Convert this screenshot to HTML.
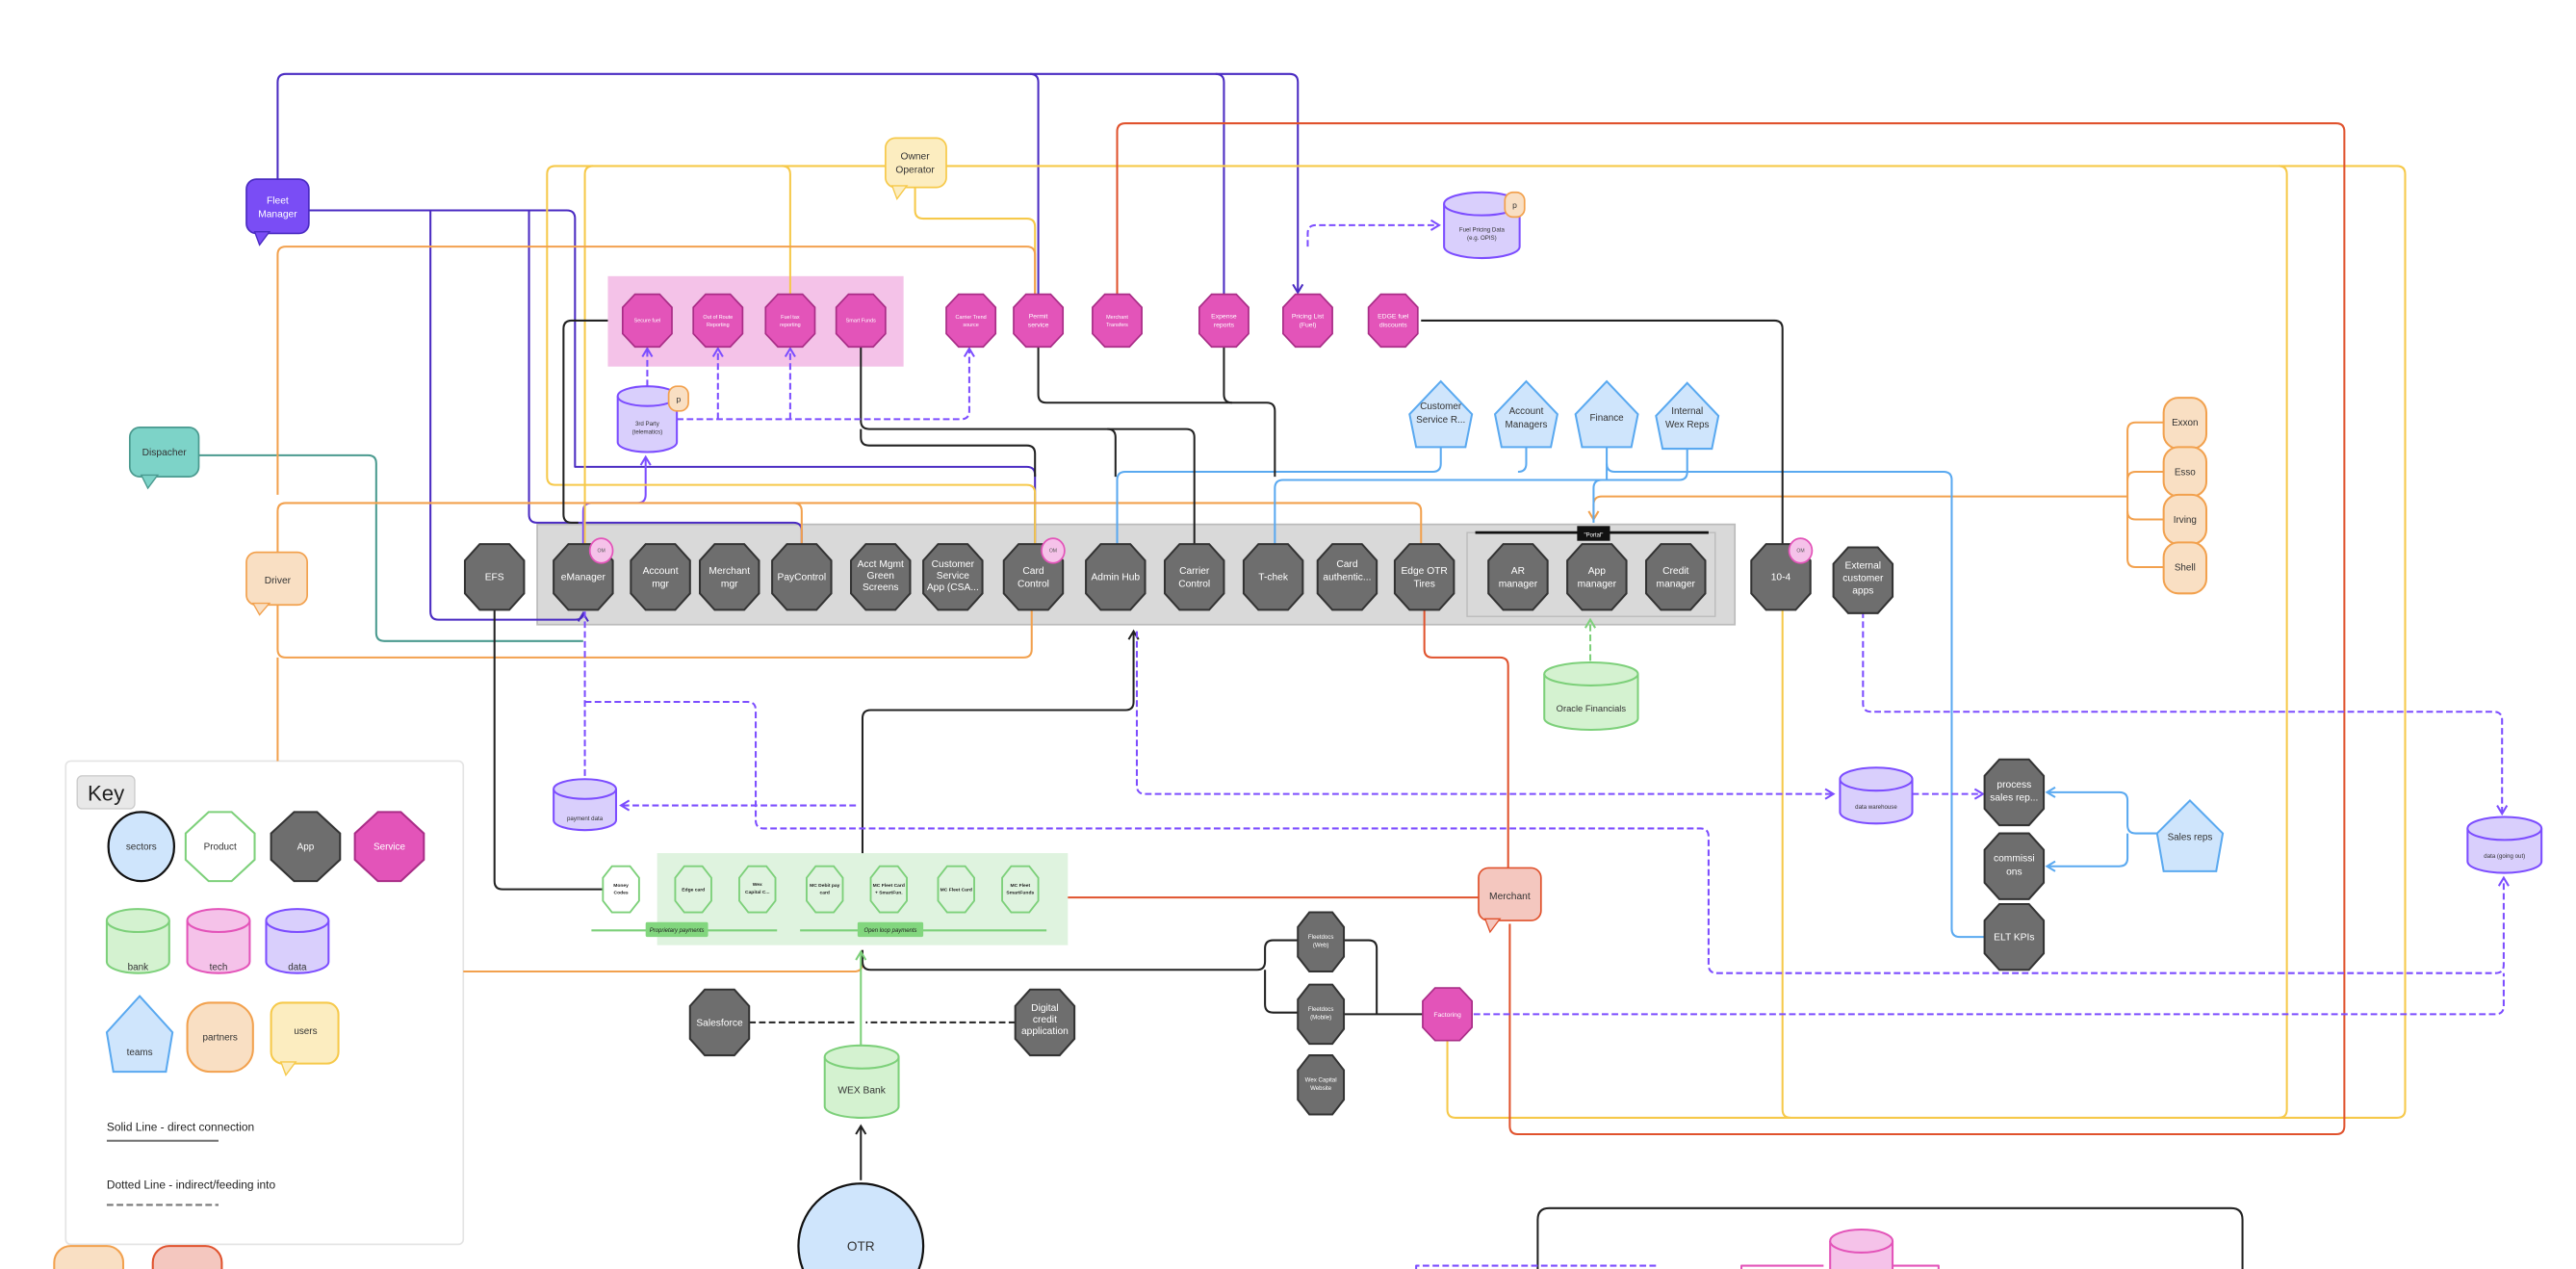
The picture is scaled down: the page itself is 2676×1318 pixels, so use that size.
<!DOCTYPE html>
<html><head><meta charset="utf-8"><style>
html,body{margin:0;padding:0;background:#fff;}
svg{display:block;}
text{font-family:"Liberation Sans",sans-serif;}
</style></head><body>
<svg width="2676" height="1318" viewBox="0 0 1568 772" preserveAspectRatio="none" xmlns="http://www.w3.org/2000/svg">
<defs>
<polygon id="app" points="-9,-20 9,-20 18,-10 18,10 9,20 -9,20 -18,10 -18,-10"/>
<polygon id="svc" points="-7.5,-16 7.5,-16 15,-8 15,8 7.5,16 -7.5,16 -15,8 -15,-8"/>
<polygon id="prd" points="-5.5,-14 5.5,-14 11,-7 11,7 5.5,14 -5.5,14 -11,7 -11,-7"/>
<polygon id="sml" points="-7,-18 7,-18 14,-9 14,9 7,18 -7,18 -14,9 -14,-9"/>
<marker id="mP" markerWidth="8" markerHeight="8" refX="6" refY="4" orient="auto" markerUnits="userSpaceOnUse"><path d="M1,1 L6,4 L1,7" fill="none" stroke="#7c4dff" stroke-width="1.2"/></marker>
<marker id="mD" markerWidth="8" markerHeight="8" refX="6" refY="4" orient="auto" markerUnits="userSpaceOnUse"><path d="M1,1 L6,4 L1,7" fill="none" stroke="#4a2bc2" stroke-width="1.2"/></marker>
<marker id="mK" markerWidth="8" markerHeight="8" refX="6" refY="4" orient="auto" markerUnits="userSpaceOnUse"><path d="M1,1 L6,4 L1,7" fill="none" stroke="#222" stroke-width="1.2"/></marker>
<marker id="mG" markerWidth="8" markerHeight="8" refX="6" refY="4" orient="auto" markerUnits="userSpaceOnUse"><path d="M1,1 L6,4 L1,7" fill="none" stroke="#7dd07a" stroke-width="1.2"/></marker>
<marker id="mO" markerWidth="8" markerHeight="8" refX="6" refY="4" orient="auto" markerUnits="userSpaceOnUse"><path d="M1,1 L6,4 L1,7" fill="none" stroke="#f2a14e" stroke-width="1.2"/></marker>
<marker id="mB" markerWidth="8" markerHeight="8" refX="6" refY="4" orient="auto" markerUnits="userSpaceOnUse"><path d="M1,1 L6,4 L1,7" fill="none" stroke="#5aa9f0" stroke-width="1.2"/></marker>
</defs>

<!-- regions -->
<rect x="370" y="168" width="180" height="55" fill="#f4c2e8"/>
<rect x="327" y="319" width="729" height="61" fill="#d9d9d9" stroke="#bbb" stroke-width="1"/>
<rect x="893" y="324" width="151" height="51" fill="#d9d9d9" stroke="#bbb" stroke-width="0.8"/>
<rect x="400" y="519" width="250" height="56" fill="#dff3df"/>
<!-- Key box background -->
<rect x="40" y="463" width="242" height="294" rx="3" fill="#fff" stroke="#e4e4e4" stroke-width="1"/>

<g fill="none" stroke-width="1.2" stroke-linejoin="round">
<!-- teal -->
<path stroke="#4a9a8f" d="M121,277 H224 Q229,277 229,282 V385 Q229,390 234,390 H355"/>
<!-- dark purple -->
<g stroke="#4a2bc2">
<path d="M169,109 V50 Q169,45 174,45 H785 Q790,45 790,50 V178" marker-end="url(#mD)"/>
<path d="M627,45 Q632,45 632,50 V180"/>
<path d="M740,45 Q745,45 745,50 V180"/>
<path d="M188,128 H345 Q350,128 350,133 V284 H625 Q630,284 630,289 V332"/>
<path d="M262,128 V372 Q262,377 267,377 H350 Q355,377 355,373" marker-end="url(#mD)"/>
<path d="M322,128 V313 Q322,318 327,318 H483 Q488,318 488,323 V332"/>
</g>
<path stroke="#7c4dff" d="M355,332 V311 Q355,306 360,306 H388 Q393,306 393,301 V278" marker-end="url(#mP)"/>
<!-- yellow -->
<g stroke="#f6c94a">
<path d="M539,101 H338 Q333,101 333,106 V290 Q333,295 338,295 H625 Q630,295 630,300 V332"/>
<path d="M361,101 Q356,101 356,106 V332"/>
<path d="M476,101 Q481,101 481,106 V180"/>
<path d="M576,101 H1459 Q1464,101 1464,106 V675 Q1464,680 1459,680 H886 Q881,680 881,675 V633"/>
<path d="M1387,101 Q1392,101 1392,106 V675 Q1392,680 1387,680"/>
<path d="M1085,370 V675 Q1085,680 1090,680"/>
<path d="M557,114 V128 Q557,133 562,133 H625 Q630,133 630,138 V180"/>
</g>
<!-- orange -->
<g stroke="#f2a14e">
<path d="M169,301 V155 Q169,150 174,150 H625 Q630,150 630,155 V180"/>
<path d="M169,336 V311 Q169,306 174,306 H860 Q865,306 865,311 V332"/>
<path d="M483,306 Q488,306 488,311 V332"/>
<path d="M169,368 V395 Q169,400 174,400 H623 Q628,400 628,395 V370"/>
<path d="M169,400 V463"/>
<path d="M282,591 H520 Q525,591 525,586 V578"/>
<path d="M1317,257 H1300 Q1295,257 1295,262 V340 Q1295,345 1300,345 H1317"/>
<path d="M1317,287 H1300 Q1295,287 1295,292"/>
<path d="M1317,316 H1300 Q1295,316 1295,311"/>
<path d="M1295,302 H975 Q970,302 970,307 V316" marker-end="url(#mO)"/>
</g>
<!-- blue -->
<g stroke="#5aa9f0">
<path d="M877,272 V282 Q877,287 872,287 H685 Q680,287 680,292 V332"/>
<path d="M929,272 V282 Q929,287 924,287"/>
<path d="M978,272 V292"/>
<path d="M978,282 Q978,287 983,287 H1183 Q1188,287 1188,292 V565 Q1188,570 1193,570 H1208"/>
<path d="M1027,272 V287 Q1027,292 1022,292 H781 Q776,292 776,297 V332"/>
<path d="M975,292 Q970,292 970,297 V318"/>
<path d="M1313,507 H1300 Q1295,507 1295,502 V487 Q1295,482 1290,482 H1246" marker-end="url(#mB)"/>
<path d="M1295,507 V522 Q1295,527 1290,527 H1246" marker-end="url(#mB)"/>
</g>
<!-- black -->
<g stroke="#222">
<path d="M370,195 H348 Q343,195 343,200 V313 Q343,318 348,318 H352"/>
<path d="M524,211 V256 Q524,261 529,261 H722 Q727,261 727,266 V332"/>
<path d="M674,261 Q679,261 679,266 V290"/>
<path d="M524,261 V266 Q524,271 529,271 H625 Q630,271 630,276 V290"/>
<path d="M632,211 V240 Q632,245 637,245 H771 Q776,245 776,250 V290"/>
<path d="M745,211 V240 Q745,245 750,245"/>
<path d="M865,195 H1080 Q1085,195 1085,200 V332"/>
<path d="M301,370 V536 Q301,541 306,541 H367"/>
<path d="M525,519 V437 Q525,432 530,432 H685 Q690,432 690,427 V384" marker-end="url(#mK)"/>
<path d="M525,578 V585 Q525,590 530,590 H765 Q770,590 770,585 V577 Q770,572 775,572 H790"/>
<path d="M770,590 V611 Q770,616 775,616 H790"/>
<path d="M818,572 H833 Q838,572 838,577 V617"/>
<path d="M818,617 H866"/>
<path d="M456,622 H522" stroke-dasharray="4,2"/>
<path d="M618,622 H527" stroke-dasharray="4,2"/>
<path d="M524,718 V685" marker-end="url(#mK)"/>
<path d="M936,772 V742 Q936,735 943,735 H1358 Q1365,735 1365,742 V772"/>
<path d="M65,694 H133" stroke="#777"/>
<path d="M65,733 H133" stroke="#777" stroke-dasharray="4,2"/>
</g>
<!-- green -->
<g stroke="#7dd07a">
<path d="M524,636 V579" marker-end="url(#mG)"/>
<path d="M968,402 V377" stroke-dasharray="4,2" marker-end="url(#mG)"/>
<path d="M360,566 H473 M487,566 H637"/>
</g>
<!-- red -->
<g stroke="#e0522d">
<path d="M680,180 V80 Q680,75 685,75 H1422 Q1427,75 1427,80 V685 Q1427,690 1422,690 H924 Q919,690 919,685 V562"/>
<path d="M900,546 H650"/>
<path d="M867,370 V395 Q867,400 872,400 H913 Q918,400 918,405 V528"/>
</g>
<!-- purple dashed -->
<g stroke="#7c4dff" stroke-dasharray="4,2">
<path d="M412,255 H585 Q590,255 590,250 V212" marker-end="url(#mP)"/>
<path d="M437,255 V212" marker-end="url(#mP)"/>
<path d="M481,255 V212" marker-end="url(#mP)"/>
<path d="M394,235 V212" marker-end="url(#mP)"/>
<path d="M796,150 V142 Q796,137 801,137 H876" marker-end="url(#mP)"/>
<path d="M356,372 V473"/>
<path d="M356,427 H455 Q460,427 460,432 V499 Q460,504 465,504 H1035 Q1040,504 1040,509 V587 Q1040,592 1045,592 H1519 Q1524,592 1524,587 V534" marker-end="url(#mP)"/>
<path d="M897,617 H1519 Q1524,617 1524,612 V592"/>
<path d="M521,490 H378" marker-end="url(#mP)"/>
<path d="M692,384 V478 Q692,483 697,483 H1116" marker-end="url(#mP)"/>
<path d="M1164,483 H1207" marker-end="url(#mP)"/>
<path d="M1134,372 V428 Q1134,433 1139,433 H1518 Q1523,433 1523,438 V495" marker-end="url(#mP)"/>
<path d="M862,772 V770 H1008 V772"/>
</g>
<path d="M1060,772 V770 H1110 M1152,770 H1180 V772" stroke="#e354b9"/>
</g>

<!-- portal line -->
<line x1="898" y1="324" x2="1040" y2="324" stroke="#111" stroke-width="1.6"/>
<rect x="960" y="320" width="20" height="9" fill="#111"/>
<text x="970" y="326.5" font-size="3.5" fill="#fff" text-anchor="middle">"Portal"</text>

<!-- speech bubbles -->
<g font-size="6" text-anchor="middle">
<rect x="150" y="109" width="38" height="33" rx="6" fill="#7a4df5" stroke="#4a2bc2"/>
<path d="M155,141 L158,149 L164,141 Z" fill="#7a4df5" stroke="#4a2bc2" stroke-width="0.8"/>
<text x="169" y="124" fill="#fff">Fleet</text><text x="169" y="132" fill="#fff">Manager</text>

<rect x="539" y="84" width="37" height="30" rx="6" fill="#fcedc0" stroke="#f6c94a"/>
<path d="M543,113 L546,121 L552,113 Z" fill="#fcedc0" stroke="#f6c94a" stroke-width="0.8"/>
<text x="557" y="97" fill="#333">Owner</text><text x="557" y="105" fill="#333">Operator</text>

<rect x="79" y="260" width="42" height="30" rx="6" fill="#7dd3c8" stroke="#4a9a8f"/>
<path d="M86,289 L90,297 L96,289 Z" fill="#7dd3c8" stroke="#4a9a8f" stroke-width="0.8"/>
<text x="100" y="277" fill="#333">Dispacher</text>

<rect x="150" y="336" width="37" height="32" rx="6" fill="#f9dfc3" stroke="#f2a14e"/>
<path d="M154,367 L158,374 L164,367 Z" fill="#f9dfc3" stroke="#f2a14e" stroke-width="0.8"/>
<text x="169" y="355" fill="#333">Driver</text>

<rect x="900" y="528" width="38" height="32" rx="6" fill="#f4c7bf" stroke="#e0522d"/>
<path d="M904,559 L907,567 L913,559 Z" fill="#f4c7bf" stroke="#e0522d" stroke-width="0.8"/>
<text x="919" y="547" fill="#333">Merchant</text>
</g>

<!-- service octagons -->
<g fill="#e354b9" stroke="#a92d87" stroke-width="1" font-size="3.2" text-anchor="middle">
<use href="#svc" x="394" y="195"/><use href="#svc" x="437" y="195"/><use href="#svc" x="481" y="195"/><use href="#svc" x="524" y="195"/>
<use href="#svc" x="591" y="195"/><use href="#svc" x="632" y="195"/><use href="#svc" x="680" y="195"/><use href="#svc" x="745" y="195"/>
<use href="#svc" x="796" y="195"/><use href="#svc" x="848" y="195"/><use href="#svc" x="881" y="617"/>
<g fill="#fff" stroke="none">
<text x="394" y="196">Secure fuel</text>
<text x="437" y="194">Out of Route</text><text x="437" y="198.5">Reporting</text>
<text x="481" y="194">Fuel tax</text><text x="481" y="198.5">reporting</text>
<text x="524" y="196">Smart Funds</text>
<text x="591" y="194">Carrier Trend</text><text x="591" y="198.5">source</text>
<text x="632" y="193.5" font-size="4">Permit</text><text x="632" y="199" font-size="4">service</text>
<text x="680" y="194">Merchant</text><text x="680" y="198.5">Transfers</text>
<text x="745" y="193.5" font-size="4">Expense</text><text x="745" y="199" font-size="4">reports</text>
<text x="796" y="193.5" font-size="4">Pricing List</text><text x="796" y="199" font-size="4">(Fuel)</text>
<text x="848" y="193.5" font-size="4">EDGE fuel</text><text x="848" y="199" font-size="4">discounts</text>
<text x="881" y="618.5" font-size="4">Factoring</text>
</g></g>

<!-- app octagons -->
<g fill="#6e6e6e" stroke="#333" stroke-width="1.2">
<use href="#app" x="301" y="351"/><use href="#app" x="355" y="351"/><use href="#app" x="402" y="351"/><use href="#app" x="444" y="351"/>
<use href="#app" x="488" y="351"/><use href="#app" x="536" y="351"/><use href="#app" x="580" y="351"/><use href="#app" x="629" y="351"/>
<use href="#app" x="679" y="351"/><use href="#app" x="727" y="351"/><use href="#app" x="775" y="351"/><use href="#app" x="820" y="351"/>
<use href="#app" x="867" y="351"/><use href="#app" x="924" y="351"/><use href="#app" x="972" y="351"/><use href="#app" x="1020" y="351"/>
<use href="#app" x="1084" y="351"/><use href="#app" x="1134" y="353"/>
<use href="#app" x="438" y="622"/><use href="#app" x="636" y="622"/>
<use href="#app" x="1226" y="482"/><use href="#app" x="1226" y="527"/><use href="#app" x="1226" y="570"/>
<use href="#sml" x="804" y="573"/><use href="#sml" x="804" y="617"/><use href="#sml" x="804" y="660"/>
</g>
<g fill="#fff" font-size="6" text-anchor="middle">
<text x="301" y="353">EFS</text>
<text x="355" y="353">eManager</text>
<text x="402" y="349">Account</text><text x="402" y="357">mgr</text>
<text x="444" y="349">Merchant</text><text x="444" y="357">mgr</text>
<text x="488" y="353">PayControl</text>
<text x="536" y="345">Acct Mgmt</text><text x="536" y="352">Green</text><text x="536" y="359">Screens</text>
<text x="580" y="345">Customer</text><text x="580" y="352">Service</text><text x="580" y="359">App (CSA...</text>
<text x="629" y="349">Card</text><text x="629" y="357">Control</text>
<text x="679" y="353">Admin Hub</text>
<text x="727" y="349">Carrier</text><text x="727" y="357">Control</text>
<text x="775" y="353">T-chek</text>
<text x="820" y="345">Card</text><text x="820" y="353">authentic...</text>
<text x="867" y="349">Edge OTR</text><text x="867" y="357">Tires</text>
<text x="924" y="349">AR</text><text x="924" y="357">manager</text>
<text x="972" y="349">App</text><text x="972" y="357">manager</text>
<text x="1020" y="349">Credit</text><text x="1020" y="357">manager</text>
<text x="1084" y="353">10-4</text>
<text x="1134" y="346">External</text><text x="1134" y="353.5">customer</text><text x="1134" y="361">apps</text>
<text x="438" y="624">Salesforce</text>
<text x="636" y="615">Digital</text><text x="636" y="622">credit</text><text x="636" y="629">application</text>
<text x="1226" y="479">process</text><text x="1226" y="487">sales rep...</text>
<text x="1226" y="524">commissi</text><text x="1226" y="532">ons</text>
<text x="1226" y="572">ELT KPIs</text>
<g font-size="3.6"><text x="804" y="571">Fleetdocs</text><text x="804" y="576">(Web)</text>
<text x="804" y="615">Fleetdocs</text><text x="804" y="620">(Mobile)</text>
<text x="804" y="658">Wex Capital</text><text x="804" y="663">Website</text></g>
</g>

<!-- OM badges -->
<g fill="#f5c2e9" stroke="#e354b9" stroke-width="1">
<ellipse cx="366" cy="335" rx="7" ry="7.5"/><ellipse cx="641" cy="335" rx="7" ry="7.5"/><ellipse cx="1096" cy="335" rx="7" ry="7.5"/>
</g>
<g font-size="3" fill="#555" text-anchor="middle"><text x="366" y="336">OM</text><text x="641" y="336">OM</text><text x="1096" y="336">OM</text></g>

<!-- products -->
<g fill="#fff" stroke="#7dd07a" stroke-width="1.1">
<use href="#prd" x="378" y="541"/>
<use href="#prd" x="422" y="541" fill="#dff3df"/><use href="#prd" x="461" y="541" fill="#dff3df"/><use href="#prd" x="502" y="541" fill="#dff3df"/>
<use href="#prd" x="541" y="541" fill="#dff3df"/><use href="#prd" x="582" y="541" fill="#dff3df"/><use href="#prd" x="621" y="541" fill="#dff3df"/>
</g>
<g font-size="2.9" fill="#222" text-anchor="middle" font-weight="bold">
<text x="378" y="539.5">Money</text><text x="378" y="544">Codes</text>
<text x="422" y="542">Edge card</text>
<text x="461" y="539">Wex</text><text x="461" y="543.5">Capital C...</text>
<text x="502" y="539.5">MC Debit pay</text><text x="502" y="544">card</text>
<text x="541" y="539.5">MC Fleet Card</text><text x="541" y="544">+ SmartFun.</text>
<text x="582" y="542">MC Fleet Card</text>
<text x="621" y="539.5">MC Fleet</text><text x="621" y="544">SmartFunds</text>
</g>
<rect x="393" y="561" width="38" height="9" fill="#82d67e" rx="1"/>
<rect x="522" y="561" width="40" height="9" fill="#82d67e" rx="1"/>
<g font-size="3.5" font-style="italic" fill="#222" text-anchor="middle"><text x="412" y="567">Proprietary payments</text><text x="542" y="567">Open loop payments</text></g>

<!-- Key items (non-cylinder) -->
<rect x="47" y="472" width="35" height="20" rx="3" fill="#e8e8e8" stroke="#ccc" stroke-width="0.8"/>
<text x="64.5" y="487" font-size="13" text-anchor="middle" fill="#222">Key</text>
<ellipse cx="86" cy="515" rx="20" ry="21" fill="#cfe5fc" stroke="#111" stroke-width="1.3"/>
<polygon points="127,494 141,494 155,507 155,523 141,536 127,536 113,523 113,507" fill="#fff" stroke="#7dd07a" stroke-width="1.2"/>
<polygon points="179,494 193,494 207,507 207,523 193,536 179,536 165,523 165,507" fill="#6e6e6e" stroke="#333" stroke-width="1.2"/>
<polygon points="230,494 244,494 258,507 258,523 244,536 230,536 216,523 216,507" fill="#e354b9" stroke="#a92d87" stroke-width="1.2"/>
<rect x="114" y="610" width="40" height="42" rx="14" fill="#f9dfc3" stroke="#f2a14e" stroke-width="1.2"/>
<rect x="165" y="610" width="41" height="37" rx="7" fill="#fcedc0" stroke="#f6c94a" stroke-width="1.2"/>
<path d="M171,646 L174,654 L180,646 Z" fill="#fcedc0" stroke="#f6c94a" stroke-width="0.8"/>

<!-- cylinders -->
<g stroke-width="1.2">
<g fill="#d9cffc" stroke="#7c4dff">
<path d="M376,241 V269 A18,6 0 0 0 412,269 V241"/><ellipse cx="394" cy="241" rx="18" ry="6"/>
<path d="M879,124 V150 A23,7 0 0 0 925,150 V124"/><ellipse cx="902" cy="124" rx="23" ry="7"/>
<path d="M337,480 V499 A19,6 0 0 0 375,499 V480"/><ellipse cx="356" cy="480" rx="19" ry="6"/>
<path d="M1120,474 V494 A22,7 0 0 0 1164,494 V474"/><ellipse cx="1142" cy="474" rx="22" ry="7"/>
<path d="M1502,504 V524 A22.5,7 0 0 0 1547,524 V504"/><ellipse cx="1524.5" cy="504" rx="22.5" ry="7"/>
<path d="M162,560 V585 A19,7 0 0 0 200,585 V560"/><ellipse cx="181" cy="560" rx="19" ry="7"/>
</g>
<g fill="#d4f2d0" stroke="#7dd07a">
<path d="M940,410 V437 A28.5,7 0 0 0 997,437 V410"/><ellipse cx="968.5" cy="410" rx="28.5" ry="7"/>
<path d="M502,643 V673 A22.5,7 0 0 0 547,673 V643"/><ellipse cx="524.5" cy="643" rx="22.5" ry="7"/>
<path d="M65,560 V585 A19,7 0 0 0 103,585 V560"/><ellipse cx="84" cy="560" rx="19" ry="7"/>
</g>
<g fill="#f5c2e9" stroke="#e354b9">
<path d="M114,560 V585 A19,7 0 0 0 152,585 V560"/><ellipse cx="133" cy="560" rx="19" ry="7"/>
<path d="M1114,755 V800 A19,7 0 0 0 1152,800 V755"/><ellipse cx="1133" cy="755" rx="19" ry="7"/>
</g>
</g>
<g fill="#f9dfc3" stroke="#f2a14e" stroke-width="1">
<rect x="407" y="235" width="12" height="15" rx="5"/><rect x="916" y="117" width="12" height="15" rx="5"/>
</g>
<g font-size="5" fill="#333" text-anchor="middle"><text x="413" y="244.5">p</text><text x="922" y="126.5">p</text></g>
<g fill="#333" text-anchor="middle" font-size="3.6">
<text x="394" y="259">3rd Party</text><text x="394" y="264">(telematics)</text>
<text x="902" y="141">Fuel Pricing Data</text><text x="902" y="146">(e.g. OPIS)</text>
<text x="356" y="499">payment data</text>
<text x="1142" y="492">data warehouse</text>
<text x="1524.5" y="522">data (going out)</text>
<text x="968.5" y="433" font-size="5.5">Oracle Financials</text>
<text x="524.5" y="665" font-size="6">WEX Bank</text>
</g>

<!-- teams pentagons -->
<g fill="#cfe5fc" stroke="#5aa9f0" stroke-width="1.2">
<polygon points="877,232 896,252 892,272 862,272 858,252"/>
<polygon points="929,232 948,252 944,272 914,272 910,252"/>
<polygon points="978,232 997,252 993,272 963,272 959,252"/>
<polygon points="1027,233 1046,253 1042,273 1012,273 1008,253"/>
<polygon points="1333,487 1353,507 1349,530 1317,530 1313,507"/>
<polygon points="85,606 105,628 101,652 69,652 65,628"/>
</g>
<g font-size="5.8" fill="#333" text-anchor="middle">
<text x="877" y="249">Customer</text><text x="877" y="257">Service R...</text>
<text x="929" y="252">Account</text><text x="929" y="260">Managers</text>
<text x="978" y="256">Finance</text>
<text x="1027" y="252">Internal</text><text x="1027" y="260">Wex Reps</text>
<text x="1333" y="511">Sales reps</text>
</g>

<!-- partners -->
<g fill="#f9dfc3" stroke="#f2a14e" stroke-width="1.2">
<rect x="1317" y="242" width="26" height="31" rx="9"/><rect x="1317" y="272" width="26" height="30" rx="9"/>
<rect x="1317" y="301" width="26" height="30" rx="9"/><rect x="1317" y="330" width="26" height="31" rx="9"/>
</g>
<g font-size="5.8" fill="#333" text-anchor="middle">
<text x="1330" y="259">Exxon</text><text x="1330" y="289">Esso</text><text x="1330" y="318">Irving</text><text x="1330" y="347">Shell</text>
</g>

<!-- OTR -->
<circle cx="524" cy="758" r="38" fill="#cfe5fc" stroke="#111" stroke-width="1.3"/>
<text x="524" y="761" font-size="8" text-anchor="middle" fill="#333">OTR</text>

<!-- bottom-left shapes -->
<rect x="33" y="758" width="42" height="40" rx="10" fill="#f9dfc3" stroke="#f2a14e" stroke-width="1.2"/>
<rect x="93" y="758" width="42" height="40" rx="10" fill="#f4c7bf" stroke="#e0522d" stroke-width="1.2"/>

<!-- Key labels -->
<g font-size="5.8" text-anchor="middle" fill="#333">
<text x="86" y="517">sectors</text><text x="134" y="517">Product</text><text x="186" y="517" fill="#fff">App</text><text x="237" y="517" fill="#fff">Service</text>
<text x="84" y="590">bank</text><text x="133" y="590">tech</text><text x="181" y="590">data</text>
<text x="85" y="642">teams</text><text x="134" y="633">partners</text><text x="186" y="629">users</text>
</g>
<text x="65" y="688" font-size="7" fill="#222">Solid Line - direct connection</text>
<text x="65" y="723" font-size="7" fill="#222">Dotted Line - indirect/feeding into</text>
</svg>
</body></html>
